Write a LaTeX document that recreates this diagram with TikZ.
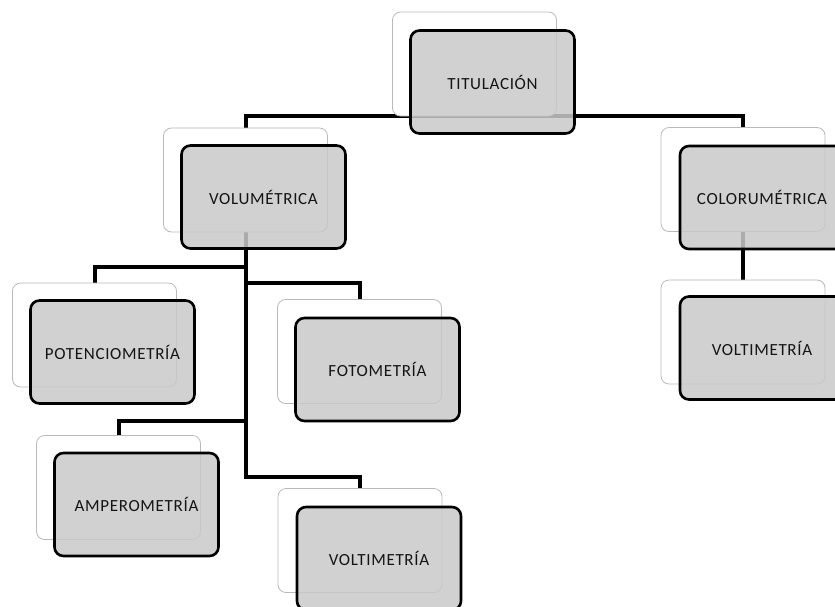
\documentclass[tikz,border=0pt]{standalone}
\usepackage{fontspec}
\newfontfamily\boxfont{Carlito}[LetterSpace=4]
\usetikzlibrary{backgrounds}

\begin{document}
\begin{tikzpicture}[x=1pt,y=-1pt,
  backbox/.style={draw=gray!55, fill=white, line width=0.8pt, rounded corners=8pt,
    minimum width=164pt, minimum height=104pt, inner sep=0pt},
  frontbox/.style={draw=black, line width=2.6pt, fill=black!21, fill opacity=0.85,
    text opacity=1, text=black!92, rounded corners=9pt, minimum width=164pt,
    minimum height=103pt, inner sep=0pt, font=\boxfont\fontsize{17}{20}\selectfont},
  link/.style={line width=4pt}]
\useasboundingbox (0,0) rectangle (835,606);

% back cards
\node[backbox] (titb) at (474.5,64) {};
\node[backbox] (volb) at (245.5,180) {};
\node[backbox] (colb) at (743,179.5) {};
\node[backbox] (vrtb) at (743,332) {};
\node[backbox] (potb) at (94.5,335) {};
\node[backbox] (fotb) at (359.5,351.5) {};
\node[backbox] (ampb) at (118.5,487.5) {};
\node[backbox] (vltb) at (360,540.5) {};

% front cards
\node[frontbox] (titf) at ([shift={(18,18)}]titb.center) {TITULACIÓN};
\node[frontbox] (volf) at ([shift={(18,17)}]volb.center) {VOLUMÉTRICA};
\node[frontbox] (colf) at ([shift={(19,18)}]colb.center) {COLORUMÉTRICA};
\node[frontbox] (vrtf) at ([shift={(19,16)}]vrtb.center) {VOLTIMETRÍA};
\node[frontbox] (potf) at ([shift={(18,17)}]potb.center) {POTENCIOMETRÍA};
\node[frontbox] (fotf) at ([shift={(18,18)}]fotb.center) {FOTOMETRÍA};
\node[frontbox] (ampf) at ([shift={(18,17)}]ampb.center) {AMPEROMETRÍA};
\node[frontbox] (vltf) at ([shift={(19,18)}]vltb.center) {VOLTIMETRÍA};

% connectors
\begin{scope}[on background layer]
\draw[link] (volb.north) |- (titb.south) -| (colb.north);
\draw[link] (colb.south) -- (vrtb.north);
\draw[link] (potb.north) -- ++(0,-16) -| (volb.south);
\draw[link] (fotb.north) -- ++(0,-16) -| (volb.south);
\draw[link] (ampb.north) -- ++(0,-14) -| (volb.south);
\draw[link] (vltb.north) -- ++(0,-11) -| (volb.south);
\end{scope}
\end{tikzpicture}
\end{document}
